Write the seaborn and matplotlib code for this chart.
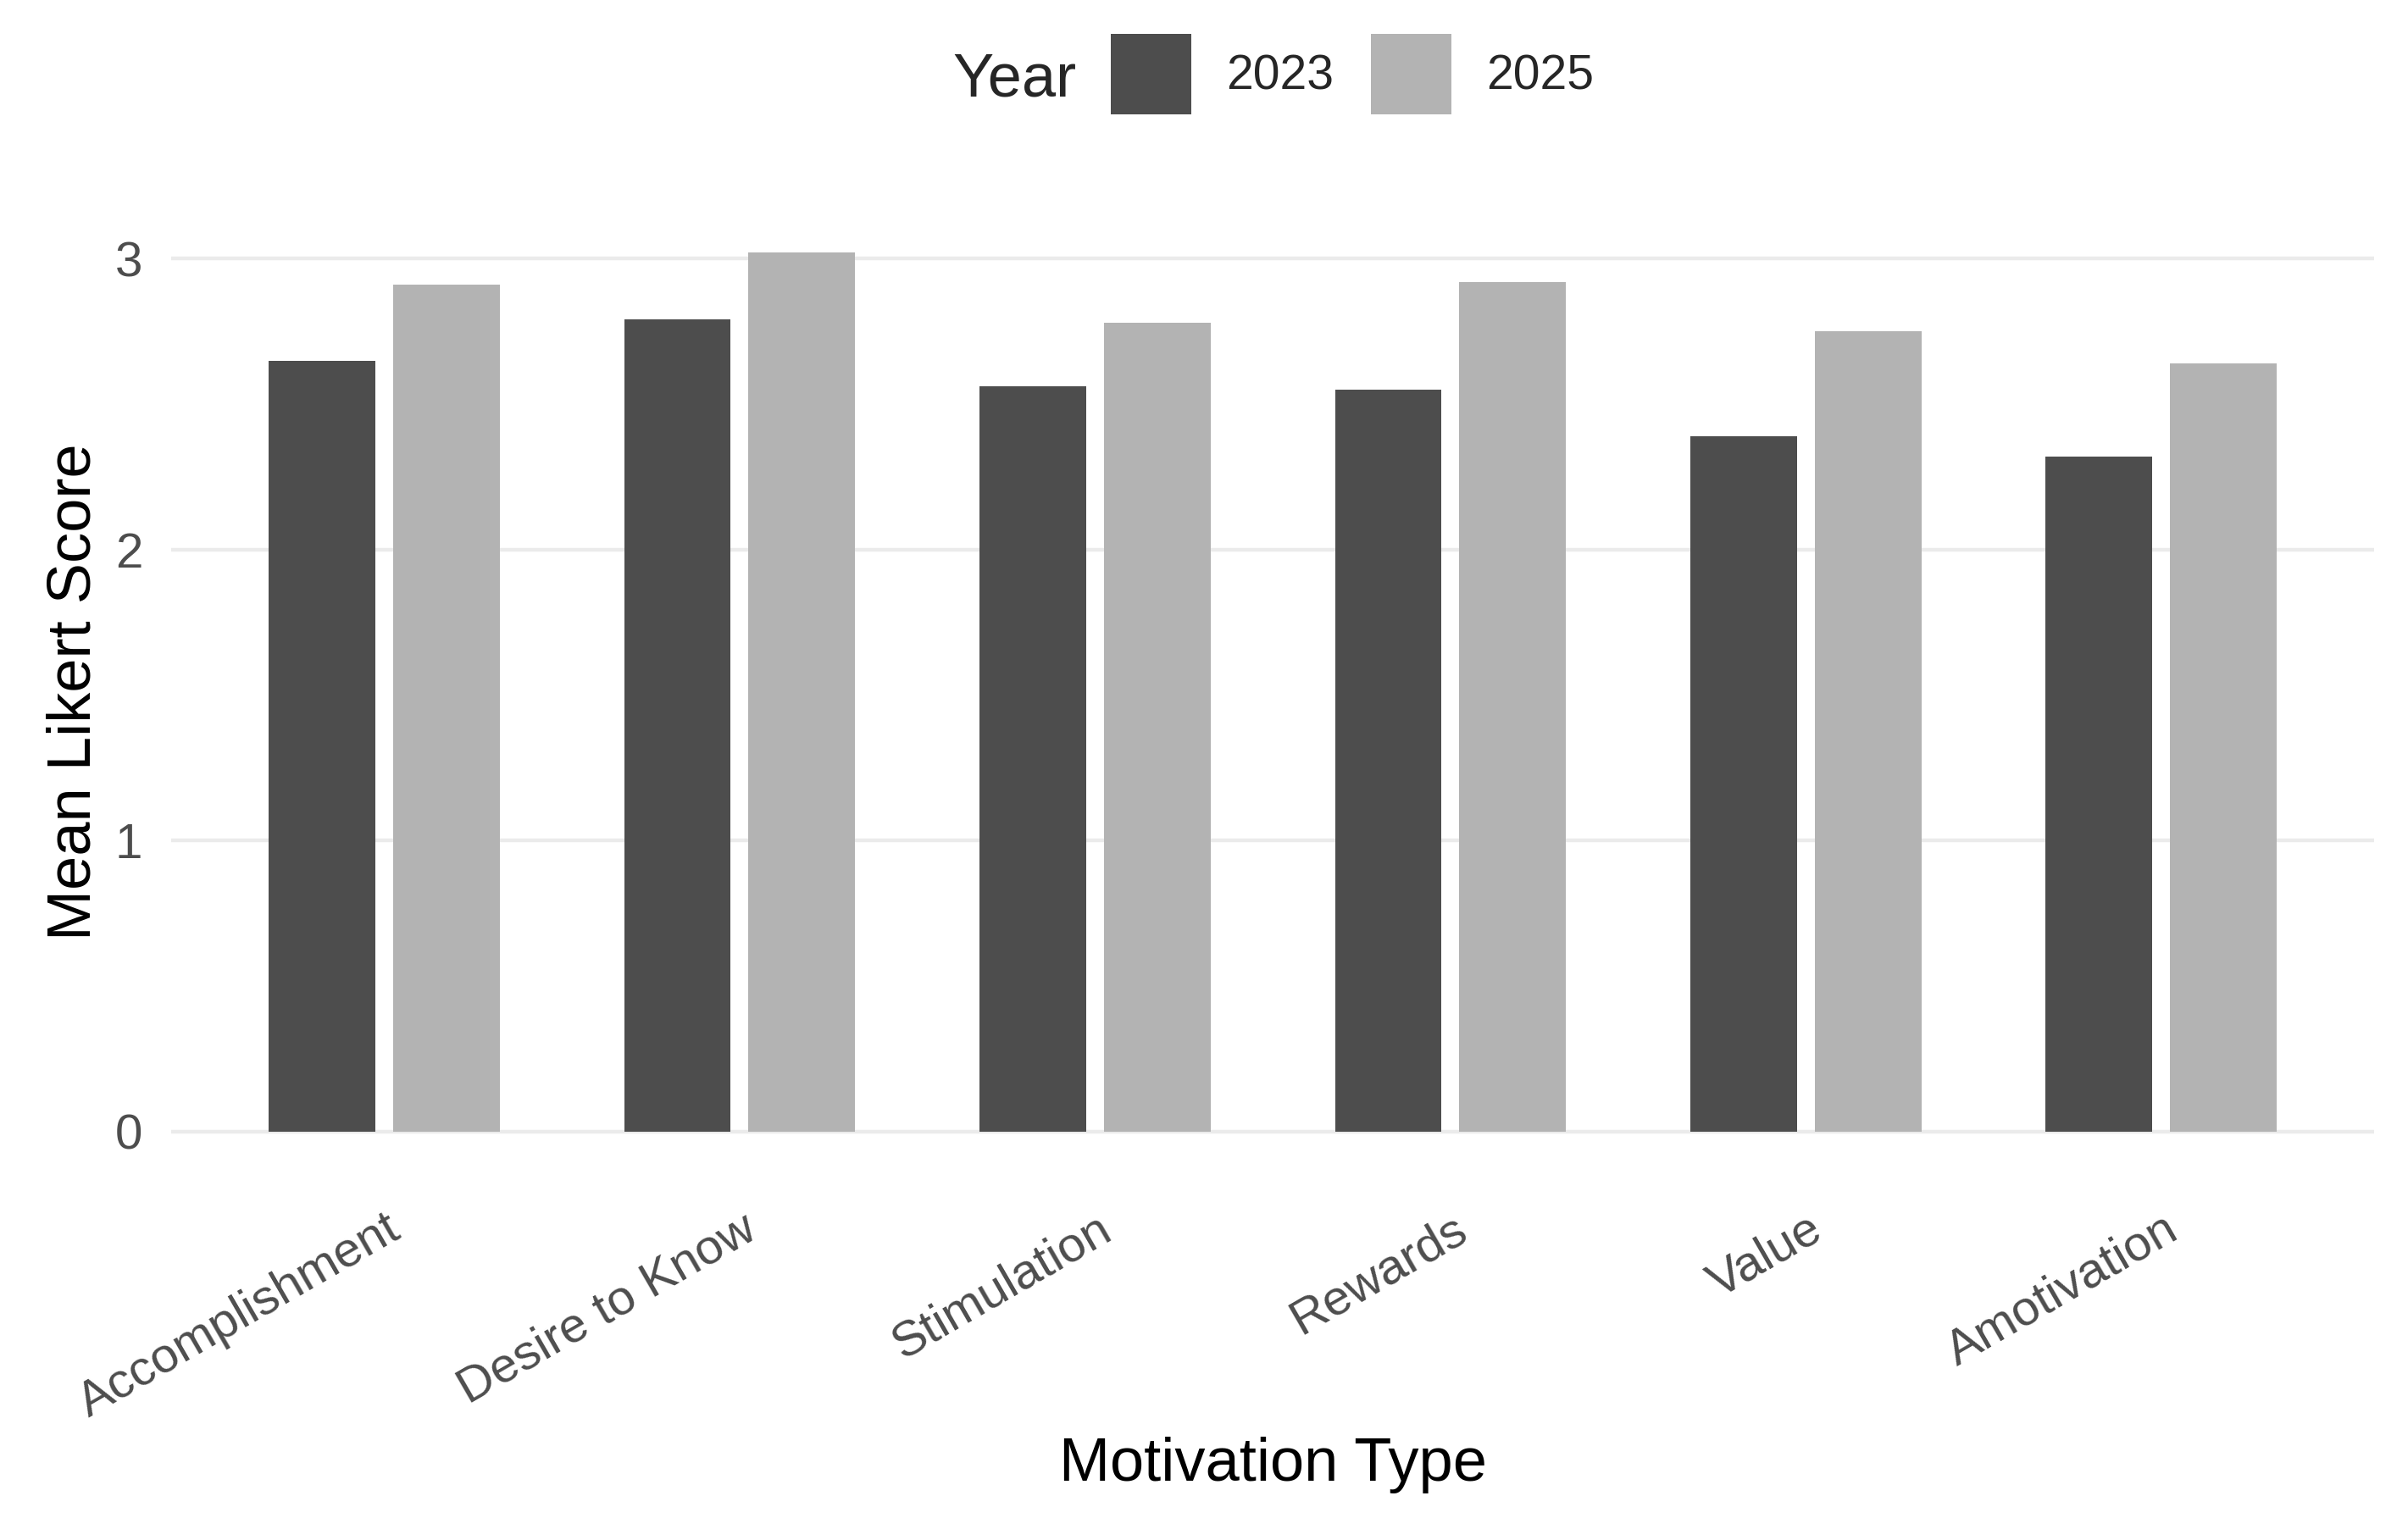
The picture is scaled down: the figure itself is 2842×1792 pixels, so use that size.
import matplotlib
matplotlib.use('Agg')
import matplotlib.pyplot as plt
import matplotlib.transforms as mtransforms
import pandas as pd
import seaborn as sns

# data
motivation_types = ['Accomplishment', 'Desire to Know', 'Stimulation',
                    'Rewards', 'Value', 'Amotivation']
years = ['2023', '2025']
mean_2023 = [2.65, 2.79, 2.56, 2.55, 2.39, 2.32]
mean_2025 = [2.91, 3.02, 2.78, 2.92, 2.75, 2.64]
y_ticks = [0, 1, 2, 3]
year_colors = ['#4D4D4D', '#B3B3B3']

df = pd.DataFrame({
    'Motivation Type': motivation_types * 2,
    'Year': [years[0]] * len(motivation_types) + [years[1]] * len(motivation_types),
    'Mean Likert Score': mean_2023 + mean_2025,
})

sns.set_theme(style='white')
plt.rcParams['font.family'] = ['Liberation Sans', 'DejaVu Sans']

fig = plt.figure(figsize=(14.21, 8.96), dpi=200)
ax = fig.add_axes([0.0710, 0.2257, 0.9151, 0.6367])

sns.barplot(data=df, x='Motivation Type', y='Mean Likert Score',
            hue='Year', order=motivation_types, hue_order=years,
            palette=year_colors, width=0.7, gap=1/7, saturation=1,
            linewidth=0, errorbar=None, ax=ax)

# ggplot-like minimal theme
for s in ax.spines.values():
    s.set_visible(False)
ax.set_axisbelow(True)
ax.yaxis.grid(True, color='#EBEBEB', linewidth=1.6)
ax.xaxis.grid(False)

top = max(mean_2023 + mean_2025)
ax.set_ylim(-0.05 * top, 1.05 * top)
ax.set_xlim(-0.6, len(motivation_types) - 0.4)
ax.set_yticks(y_ticks)
ax.set_yticklabels([str(t) for t in y_ticks])

ax.tick_params(axis='both', length=0, labelsize=21, labelcolor='#4D4D4D')
ax.tick_params(axis='y', pad=12)
ax.tick_params(axis='x', pad=13)

ax.set_xticks(range(len(motivation_types)))
ax.set_xticklabels(motivation_types, rotation=30, ha='right', va='top',
                   rotation_mode='anchor')
shift = mtransforms.ScaledTranslation(0.5 / 72, 0, fig.dpi_scale_trans)
for lbl in ax.get_xticklabels():
    lbl.set_transform(lbl.get_transform() + shift)

ax.set_xlabel('Motivation Type', fontsize=26, color='black', va='baseline')
ax.xaxis.set_label_coords(0.5, -0.3158)
ax.set_ylabel('Mean Likert Score', fontsize=26, color='black', va='baseline',
              rotation_mode='anchor')
ax.yaxis.set_label_coords(-0.03645, 0.5)

# legend on top, title placed inline to the left
sns.move_legend(ax, 'center left', bbox_to_anchor=(0.4612, 0.9512),
                bbox_transform=fig.transFigure, ncol=2, title=None,
                frameon=False, fontsize=20.5, handlelength=1.68,
                handleheight=2.19, handletextpad=0.72, columnspacing=0.76,
                borderpad=0, borderaxespad=0)
fig.text(1124 / 2842, 1 - 113 / 1792, 'Year', fontsize=26,
         ha='left', va='baseline')

fig.savefig('out.png', dpi=200)
